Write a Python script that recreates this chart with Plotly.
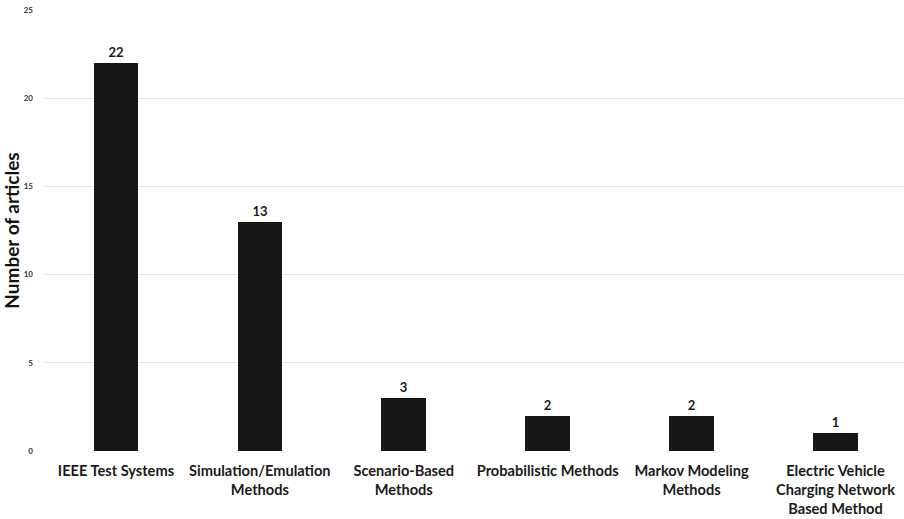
import plotly.graph_objects as go

categories = [
    "IEEE Test Systems",
    "Simulation/Emulation<br>Methods",
    "Scenario-Based<br>Methods",
    "Probabilistic Methods",
    "Markov Modeling<br>Methods",
    "Electric Vehicle<br>Charging Network<br>Based Method",
]
articles = [22, 13, 3, 2, 2, 1]
y_ticks = [0, 5, 10, 15, 20, 25]

FONT = "Lato"

fig = go.Figure(
    go.Bar(
        x=list(range(len(categories))),
        y=articles,
        width=0.31,
        marker=dict(color="#171717", line=dict(width=0)),
        text=[str(v) for v in articles],
        textposition="outside",
        textfont=dict(family=FONT, size=13, color="#1a1a1a", weight="bold"),
        cliponaxis=False,
    )
)

fig.update_layout(
    width=904,
    height=519,
    margin=dict(l=41, r=0, t=10, b=68),
    paper_bgcolor="white",
    plot_bgcolor="white",
    showlegend=False,
    bargap=0,
    xaxis=dict(
        range=[-0.5, 5.476],
        tickmode="array",
        tickvals=list(range(len(categories))),
        ticktext=categories,
        tickfont=dict(family=FONT, size=14.6, color="#1a1a1a", weight="bold"),
        showgrid=False,
        zeroline=False,
        showline=False,
        ticks="",
        ticklabelstandoff=9,
    ),
    yaxis=dict(
        range=[0, 25],
        tickmode="array",
        tickvals=y_ticks,
        tickfont=dict(family=FONT, size=8, color="#333333", weight="bold"),
        showgrid=True,
        gridcolor="#e3e3e3",
        gridwidth=1,
        zeroline=False,
        showline=False,
        ticks="",
        ticklabelstandoff=10,
        title=dict(
            text="Number of articles",
            font=dict(family=FONT, size=19, color="#111111", weight="bold"),
            standoff=10,
        ),
    ),
)

fig.write_html("out.html")
